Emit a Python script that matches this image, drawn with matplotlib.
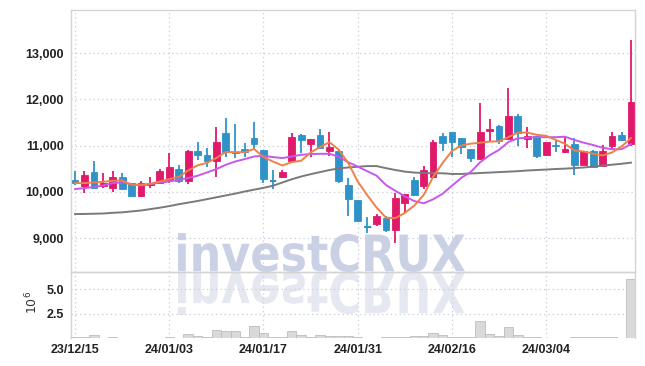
import matplotlib
matplotlib.use("Agg")
import matplotlib.pyplot as plt
from matplotlib.textpath import TextPath
from matplotlib.patches import PathPatch
from matplotlib.font_manager import FontProperties
from matplotlib.transforms import Affine2D, IdentityTransform
import numpy as np

dates = ["23/12/15", "23/12/18", "23/12/19", "23/12/20", "23/12/21", "23/12/22",
         "23/12/26", "23/12/27", "23/12/28", "24/01/02", "24/01/03", "24/01/04",
         "24/01/05", "24/01/08", "24/01/09", "24/01/10", "24/01/11", "24/01/12",
         "24/01/15", "24/01/16", "24/01/17", "24/01/18", "24/01/19", "24/01/22",
         "24/01/23", "24/01/24", "24/01/25", "24/01/26", "24/01/29", "24/01/30",
         "24/01/31", "24/02/01", "24/02/02", "24/02/05", "24/02/06", "24/02/07",
         "24/02/08", "24/02/13", "24/02/14", "24/02/15", "24/02/16", "24/02/19",
         "24/02/20", "24/02/21", "24/02/22", "24/02/23", "24/02/26", "24/02/27",
         "24/02/28", "24/02/29", "24/03/04", "24/03/05", "24/03/06", "24/03/07",
         "24/03/08", "24/03/11", "24/03/12", "24/03/13", "24/03/14", "24/03/15"]

opens = [10250, 10115, 10438, 10130, 10080, 10317, 10188, 9899, 10136, 10200,
         10259, 10497, 10222, 10886, 10800, 10670, 11280, 10870, 10929, 11173,
         10907, 10240, 10309, 10670, 11231, 11037, 11231, 10886, 10886, 10151,
         9827, 9240, 9302, 9432, 9164, 9757, 10259, 10115, 10309, 11210,
         11290, 11160, 10922, 10713, 11324, 11432, 11138, 11641, 11145, 11195,
         10784, 11015, 10857, 11037, 10583, 10886, 10560, 11000, 11231, 11030]
highs = [10450, 10454, 10670, 10400, 10454, 10400, 10195, 10238, 10309, 10497,
         10834, 10583, 10900, 11073, 10944, 11390, 11590, 11470, 11050, 11505,
         10910, 10475, 10480, 11280, 11250, 11145, 11354, 11302, 10900, 10296,
         9830, 9450, 9518, 9482, 9972, 9960, 10320, 10560, 11123, 11270,
         11300, 11170, 10930, 11916, 11577, 11450, 12240, 11684, 11390, 11200,
         11080, 11123, 11210, 11170, 10890, 10900, 11015, 11300, 11300, 13283]
lows = [10150, 9978, 10060, 10085, 9985, 10040, 9890, 9890, 10080, 10190,
        10200, 10200, 10166, 10691, 10546, 10317, 10760, 10730, 10750, 10929,
        10188, 10058, 10300, 10620, 10834, 10750, 10944, 10778, 10190, 9467,
        9350, 9115, 9270, 9120, 8892, 9540, 9910, 10058, 10300, 10886,
        10762, 10820, 10640, 10700, 11100, 11030, 11130, 10994, 10944, 10728,
        10770, 10850, 10840, 10367, 10570, 10520, 10550, 10922, 11100, 11000]
closes = [10190, 10367, 10080, 10188, 10317, 10058, 9899, 10188, 10188, 10454,
          10533, 10222, 10886, 10784, 10670, 11086, 10857, 10836, 10850, 11037,
          10281, 10230, 10438, 11184, 11123, 11140, 10944, 10957, 10222, 9849,
          9359, 9235, 9467, 9164, 9864, 9950, 9920, 10475, 11073, 11052,
          11086, 10965, 10728, 11290, 11360, 11100, 11641, 11268, 11195, 10778,
          11073, 10979, 10929, 10568, 10886, 10540, 10886, 11210, 11123, 11950]

ma5 = [10188, 10188, 10200, 10216, 10238, 10244, 10151, 10151, 10173, 10222,
       10274, 10320, 10460, 10570, 10625, 10730, 10860, 10857, 10857, 10925,
       10750, 10654, 10568, 10641, 10670, 10850, 10965, 11073, 10907, 10620,
       10222, 9930, 9660, 9440, 9430, 9540, 9700, 9930, 10320, 10620,
       10880, 11000, 11040, 11060, 11085, 11090, 11181, 11280, 11280, 11231,
       11210, 11123, 11037, 10892, 10870, 10821, 10784, 10850, 10980, 11160]
ma10 = [10058, 10080, 10101, 10136, 10188, 10200, 10166, 10136, 10166, 10200,
        10222, 10259, 10296, 10346, 10417, 10490, 10583, 10654, 10706, 10762,
        10778, 10750, 10728, 10762, 10799, 10814, 10821, 10821, 10756, 10637,
        10545, 10445, 10348, 10146, 10020, 9901, 9799, 9750, 9836, 9956,
        10129, 10302, 10428, 10640, 10790, 10905, 11077, 11156, 11169, 11180,
        11180, 11180, 11190, 11120, 11060, 11010, 10950, 10920, 10920, 11030]
ma60 = [9518, 9520, 9525, 9530, 9545, 9555, 9575, 9595, 9625, 9655,
        9690, 9730, 9765, 9800, 9840, 9880, 9920, 9960, 10005, 10045,
        10085, 10130, 10200, 10270, 10330, 10380, 10425, 10470, 10505, 10525,
        10540, 10555, 10555, 10510, 10470, 10435, 10415, 10405, 10400, 10400,
        10385, 10385, 10395, 10405, 10415, 10425, 10435, 10445, 10460, 10470,
        10480, 10492, 10500, 10512, 10525, 10545, 10565, 10585, 10605, 10630]

volume = [0.15, 0.15, 0.28, 0.05, 0.15, 0.05, 0.05, 0.05, 0.05, 0.05,
          0.12, 0.05, 0.38, 0.25, 0.1, 0.87, 0.67, 0.67, 0.15, 1.22,
          0.49, 0.15, 0.1, 0.7, 0.3, 0.15, 0.28, 0.25, 0.25, 0.25,
          0.1, 0.05, 0.05, 0.1, 0.15, 0.1, 0.2, 0.25, 0.5, 0.3,
          0.15, 0.1, 0.1, 1.74, 0.42, 0.2, 1.08, 0.3, 0.1, 0.08,
          0.05, 0.05, 0.05, 0.15, 0.08, 0.08, 0.08, 0.15, 0.05, 6.08]

price_ticks = [9000, 10000, 11000, 12000, 13000]
vol_ticks = [2.5, 5.0]

UP = "#e0196a"
DOWN = "#2f93c8"
GRID = "#c9cadb"
font = ["Liberation Sans", "DejaVu Sans"]

fig = plt.figure(figsize=(6.45, 3.66), dpi=100)
ax = fig.add_axes([71 / 645, 1 - 272 / 366, 564 / 645, 262 / 366])
axv = fig.add_axes([71 / 645, 1 - 338 / 366, 564 / 645, 66 / 366], sharex=ax)

x = np.arange(len(closes))
o = np.array(opens)
c = np.array(closes)
up = c >= o
colors = np.where(up, UP, DOWN)

# watermark + reflection
fp = FontProperties(family="DejaVu Sans", weight="bold")
tp = TextPath((0, 0), "investCRUX", size=50, prop=fp)
ext = tp.get_extents()
x0, x1 = 178, 465
top, base = 233, 272
sx = (x1 - x0) / ext.width
sy = (base - top) / ext.height
tr = Affine2D().translate(-ext.x0, -ext.y0).scale(sx, sy).translate(x0, 366 - base)
fig.add_artist(PathPatch(tr.transform_path(tp), facecolor="#cbd1e5", edgecolor="none",
                         transform=IdentityTransform(), zorder=0.5))
tr2 = Affine2D().translate(-ext.x0, -ext.y0).scale(sx, -sy * 1.1).translate(x0, 366 - base)
fig.add_artist(PathPatch(tr2.transform_path(tp), facecolor="#e6e8f1", edgecolor="none",
                         transform=IdentityTransform(), zorder=0.4))

for a in (ax, axv):
    a.grid(True, linestyle=(0, (1, 2.5)), color=GRID, linewidth=0.9)
    a.set_axisbelow(True)
    for s in a.spines.values():
        s.set_color("#d4d4d4")
        s.set_linewidth(1.0)
    a.tick_params(length=0, pad=5)
    a.patch.set_visible(False)
    a.set_zorder(2)
axv.spines["bottom"].set_visible(False)
fig.patch.set_facecolor("white")

ax.vlines(x, lows, highs, colors=colors, linewidth=1.3, zorder=3)
ax.bar(x, np.abs(c - o), bottom=np.minimum(o, c), width=0.72, color=colors,
       edgecolor=colors, linewidth=0.6, zorder=4)
flat = np.abs(c - o) < 20
ax.hlines(c[flat], x[flat] - 0.36, x[flat] + 0.36, colors=colors[flat], linewidth=1.5, zorder=4)

ax.plot(x, ma60, color="#7a7a7a", linewidth=1.4, zorder=5)
ax.plot(x, ma10, color="#c758ec", linewidth=1.4, zorder=5)
ax.plot(x, ma5, color="#ef8048", linewidth=1.4, zorder=5)

ax.set_ylim(8265, 13930)
ax.set_xlim(-0.43, len(x) - 0.57)
ax.set_yticks(price_ticks)
ax.set_yticklabels([f"{v:,}" for v in price_ticks])
ax.tick_params(axis="x", labelbottom=False)

axv.bar(x, volume, width=1.0, color="#d9d9d9", edgecolor="#bdbdbd", linewidth=0.6, zorder=3)
axv.set_ylim(0, 6.77)
axv.set_yticks(vol_ticks)
axv.set_yticklabels(["2.5", "5.0"])
ticks = list(range(0, len(x), 10))
axv.set_xticks(ticks)
axv.set_xticklabels([dates[i] for i in ticks])
axv.tick_params(axis="x", pad=4)

for lab in ax.get_yticklabels() + axv.get_yticklabels() + axv.get_xticklabels():
    lab.set_family(font)
    lab.set_fontweight("bold")
    lab.set_fontsize(9)
    lab.set_color("#222222")

fig.text(32 / 645, 1 - 302 / 366, "$10^6$", rotation=90, ha="center", va="center",
         fontsize=9, color="#333333")

fig.savefig("out.png", dpi=100, facecolor="white")
